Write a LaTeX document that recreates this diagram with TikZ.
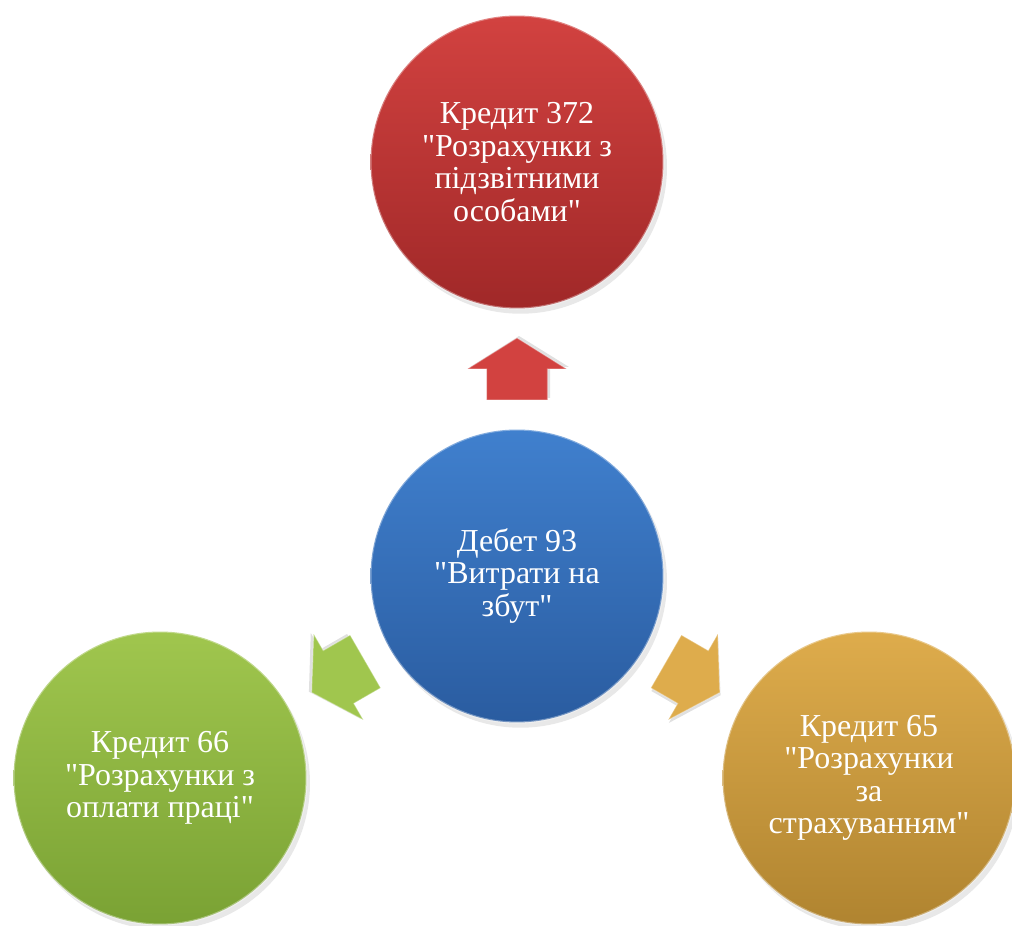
\documentclass[tikz,border=0pt]{standalone}
\usepackage{fontspec}
\setmainfont{Liberation Serif}[Ligatures=TeXOff]
\usetikzlibrary{calc,shadows}

\definecolor{chervTop}{RGB}{210,66,64}
\definecolor{chervBot}{RGB}{160,40,40}
\definecolor{synTop}{RGB}{64,128,206}
\definecolor{synBot}{RGB}{42,92,160}
\definecolor{zelTop}{RGB}{160,198,78}
\definecolor{zelBot}{RGB}{122,162,52}
\definecolor{zolTop}{RGB}{222,172,76}
\definecolor{zolBot}{RGB}{176,132,48}

\begin{document}
\begin{tikzpicture}[x=0.02cm, y=0.02cm,
    rahunok/.style={circle, minimum size=5.86cm, inner sep=0pt, align=center,
        text=white, font=\fontsize{18.2}{18.5}\selectfont,
        draw=white, draw opacity=0.35, line width=1.2pt,
        drop shadow={opacity=0.18, shadow xshift=2pt, shadow yshift=-3pt}},
    strilka/.style={draw=white, draw opacity=0.3, line width=0.6pt}]
    \useasboundingbox (0,0) rectangle (1012,926);

    \node[rahunok, top color=synTop, bottom color=synBot] (deb) at (517,350)
        {Дебет 93\\"Витрати на\\збут"};
    \node[rahunok, top color=chervTop, bottom color=chervBot] (kr372) at (517,764)
        {Кредит 372\\"Розрахунки з\\підзвітними\\особами"};
    \node[rahunok, top color=zelTop, bottom color=zelBot] (kr66) at (160,148)
        {Кредит 66\\"Розрахунки з\\оплати праці"};
    \node[rahunok, top color=zolTop, bottom color=zolBot] (kr65) at (869,148)
        {Кредит 65\\"Розрахунки\\за\\страхуванням"};

    \foreach \kinec/\kut/\kolir in {kr372/90/chervTop, kr66/210/zelTop, kr65/330/zolTop}
    {
        \begin{scope}[shift={($(deb)!0.5!(\kinec)$)}, rotate=\kut]
            \fill[black, opacity=0.12] (-29,-33) -- (2,-33) -- (2,-52) -- (33,-2)
                -- (2,47) -- (2,28) -- (-29,28) -- cycle;
            \path[strilka, fill=\kolir] (-31,-30.5) -- (0,-30.5) -- (0,-49.5) -- (31,0)
                -- (0,49.5) -- (0,30.5) -- (-31,30.5) -- cycle;
        \end{scope}
    }
\end{tikzpicture}
\end{document}
